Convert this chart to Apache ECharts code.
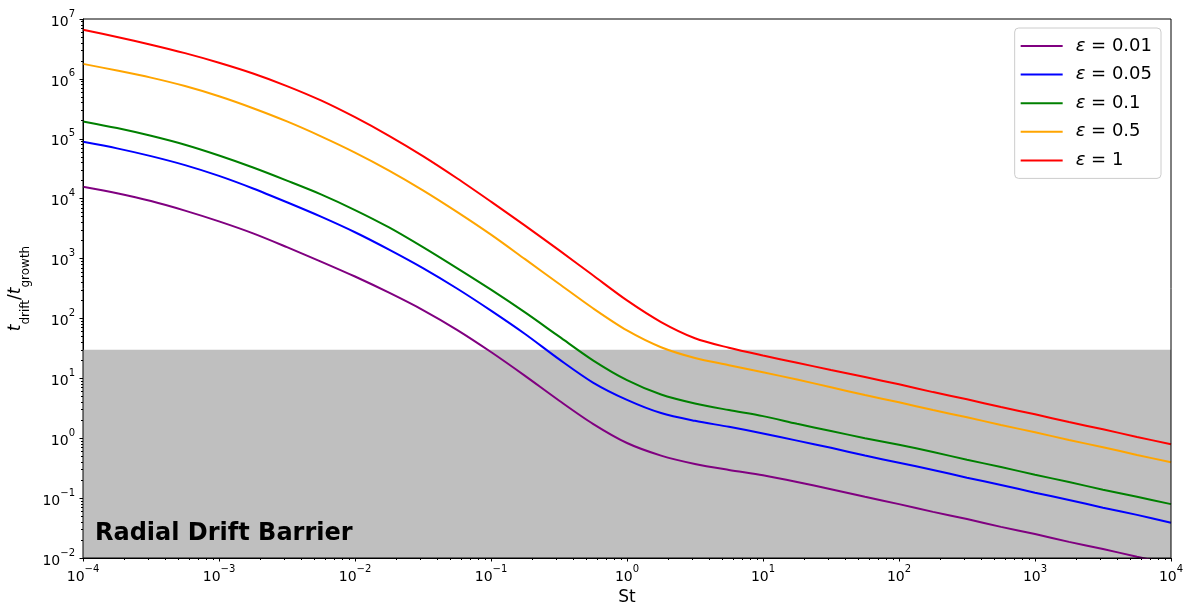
<!DOCTYPE html>
<html><head><meta charset="utf-8">
<script src="https://cdn.jsdelivr.net/npm/echarts@6/dist/echarts.min.js"></script>
<style>html,body{margin:0;padding:0;background:#fff}#c{width:1191px;height:606px}</style>
</head><body><div id="c"></div>
<script>
// Stokes numbers (x), quarter decades
const stokes = [1e-4, 1.78e-4, 3.16e-4, 5.62e-4, 1e-3, 1.78e-3, 3.16e-3, 5.62e-3,
  1e-2, 1.78e-2, 3.16e-2, 5.62e-2, 0.1, 0.178, 0.316, 0.562, 1, 1.78, 3.16, 5.62,
  10, 17.8, 31.6, 56.2, 100, 178, 316, 562, 1000, 1778, 3162, 5623, 10000];
// t_drift / t_growth for each epsilon
const eps001 = [1.58e4, 1.23e4, 9.12e3, 6.31e3, 4.17e3, 2.63e3, 1.55e3, 891, 501, 269, 138, 64.6, 27.5, 11.0, 4.27, 1.74,
  0.832, 0.513, 0.372, 0.295, 0.240, 0.186, 0.141, 0.105, 0.0794, 0.0589, 0.0447, 0.0331, 0.0251, 0.0186, 0.0141, 0.0105, 0.00794];
const eps005 = [8.91e4, 6.92e4, 5.13e4, 3.63e4, 2.40e4, 1.48e4, 8.71e3, 5.01e3, 2.75e3, 1.41e3, 692, 316, 135, 55.0, 20.9, 8.51,
  4.37, 2.63, 1.95, 1.55, 1.20, 0.912, 0.692, 0.513, 0.389, 0.295, 0.219, 0.166, 0.123, 0.0933, 0.0692, 0.0525, 0.0389];
const eps01  = [1.95e5, 1.51e5, 1.12e5, 7.94e4, 5.25e4, 3.31e4, 2.00e4, 1.18e4, 6.46e3, 3.31e3, 1.55e3, 692, 302, 126, 50.1, 20.0,
  9.33, 5.37, 3.80, 2.95, 2.34, 1.74, 1.32, 1.00, 0.776, 0.589, 0.437, 0.331, 0.245, 0.186, 0.138, 0.105, 0.0794];
const eps05  = [1.78e6, 1.38e6, 1.05e6, 7.59e5, 5.13e5, 3.24e5, 1.95e5, 1.10e5, 5.89e4, 2.95e4, 1.38e4, 6.03e3, 2.51e3, 977, 380, 148,
  63.1, 33.1, 21.9, 16.6, 12.6, 9.55, 7.08, 5.25, 3.98, 2.95, 2.24, 1.66, 1.26, 0.933, 0.708, 0.525, 0.398];
const eps1   = [6.61e6, 5.01e6, 3.72e6, 2.69e6, 1.86e6, 1.23e6, 7.59e5, 4.37e5, 2.29e5, 1.12e5, 5.13e4, 2.19e4, 8.91e3, 3.55e3, 1.38e3, 525,
  200, 87.1, 46.8, 32.4, 24.0, 18.2, 13.8, 10.5, 7.94, 5.89, 4.47, 3.31, 2.51, 1.86, 1.41, 1.05, 0.794];
const seriesNames = ['ε = 0.01', 'ε = 0.05', 'ε = 0.1', 'ε = 0.5', 'ε = 1'];
const seriesValues = [eps001, eps005, eps01, eps05, eps1];
const colors = ['#800080', '#0000ff', '#008000', '#ffa500', '#ff0000'];
const barrierLow = 0.01, barrierHigh = 30;
const xMin = 1e-4, xMax = 1e4, yMin = 1e-2, yMax = 1e7;

function minorTicks(lo, hi) {
  const out = [];
  for (let e = Math.round(Math.log10(lo)); e < Math.round(Math.log10(hi)); e++) {
    for (let m = 2; m <= 9; m++) out.push(m * Math.pow(10, e));
  }
  return out;
}
const FONT = 'DejaVu Sans';
const supRich = {
  b: {fontFamily: FONT, fontSize: 14, color: '#000', lineHeight: 20, verticalAlign: 'bottom'},
  s: {fontFamily: FONT, fontSize: 10, color: '#000', lineHeight: 20, verticalAlign: 'top'}
};
function powLabel(v) {
  const e = Math.round(Math.log10(v));
  return '{b|10}{s|' + (e < 0 ? '\u2212' + (-e) : e) + '}';
}

const chart = echarts.init(document.getElementById('c'), null, {renderer: 'canvas'});
const series = [{
  type: 'line', name: 'barrier', data: [], z: 1, silent: true,
  markArea: {silent: true, itemStyle: {color: '#bfbfbf'},
    data: [[{yAxis: barrierLow}, {yAxis: barrierHigh}]]}
}];
seriesNames.forEach((n, i) => {
  series.push({
    type: 'line', name: n, showSymbol: false, symbol: 'none',
    smooth: 0.3, clip: true, z: 3 + i,
    lineStyle: {color: colors[i], width: 2}, itemStyle: {color: colors[i]},
    data: stokes.map((s, j) => [s, seriesValues[i][j]])
  });
});

chart.setOption({
  animation: false,
  backgroundColor: '#fff',
  grid: {left: 83, right: 20, top: 19, bottom: 48, outerBoundsMode: 'none', containLabel: false,
    show: true, borderColor: '#000', borderWidth: 1, backgroundColor: 'transparent', z: 10},
  legend: {
    data: seriesNames, orient: 'vertical', right: 30, top: 28,
    padding: [8, 9, 8, 6], itemGap: 8.6, itemWidth: 42, itemHeight: 2, icon: 'rect',
    backgroundColor: 'rgba(255,255,255,0.8)', borderColor: '#cccccc', borderWidth: 1, borderRadius: 4,
    textStyle: {fontFamily: FONT, fontSize: 18, color: '#000', lineHeight: 20, padding: [0, 0, 0, 8],
      rich: {e: {fontFamily: FONT, fontSize: 18, fontStyle: 'italic', color: '#000'}}},
    formatter: n => n.replace('ε', '{e|ε}')
  },
  xAxis: [{
    type: 'log', logBase: 10, min: xMin, max: xMax, interval: 1, position: 'bottom',
    name: 'St', nameLocation: 'middle', nameGap: 31,
    nameTextStyle: {fontFamily: FONT, fontSize: 17, color: '#000'},
    axisLine: {show: true, lineStyle: {color: '#000'}},
    axisTick: {show: true, length: 3.5, lineStyle: {color: '#000'}},
    axisLabel: {show: true, margin: 6, formatter: powLabel, rich: supRich},
    splitLine: {show: false}, minorTick: {show: false}
  }, {
    type: 'log', logBase: 10, min: xMin, max: xMax, position: 'bottom',
    axisLine: {show: false}, axisLabel: {show: false}, splitLine: {show: false},
    axisTick: {show: true, length: 2, lineStyle: {color: '#000'}, customValues: minorTicks(xMin, xMax)}
  }],
  yAxis: [{
    type: 'log', logBase: 10, min: yMin, max: yMax, interval: 1, position: 'left',
    name: '{i|t}{s|drift}{n|/}{i|t}{s|growth}', nameLocation: 'middle', nameGap: 45, nameRotate: 90,
    nameTextStyle: {rich: {
      i: {fontFamily: FONT, fontSize: 17, fontStyle: 'italic', color: '#000', lineHeight: 24, verticalAlign: 'top'},
      n: {fontFamily: FONT, fontSize: 17, color: '#000', lineHeight: 24, verticalAlign: 'top'},
      s: {fontFamily: FONT, fontSize: 12, color: '#000', lineHeight: 24, verticalAlign: 'bottom'}
    }},
    axisLine: {show: true, lineStyle: {color: '#000'}},
    axisTick: {show: true, length: 3.5, lineStyle: {color: '#000'}},
    axisLabel: {show: true, margin: 8, formatter: powLabel, rich: supRich},
    splitLine: {show: false}, minorTick: {show: false}
  }, {
    type: 'log', logBase: 10, min: yMin, max: yMax, position: 'left',
    axisLine: {show: false}, axisLabel: {show: false}, splitLine: {show: false},
    axisTick: {show: true, length: 2, lineStyle: {color: '#000'}, customValues: minorTicks(yMin, yMax)}
  }],
  graphic: [{
    type: 'text', left: 95, top: 522, z: 20,
    style: {text: 'Radial Drift Barrier', font: 'bold 24px "DejaVu Sans"', fill: '#000'}
  }],
  series: series
});
</script>
</body></html>
